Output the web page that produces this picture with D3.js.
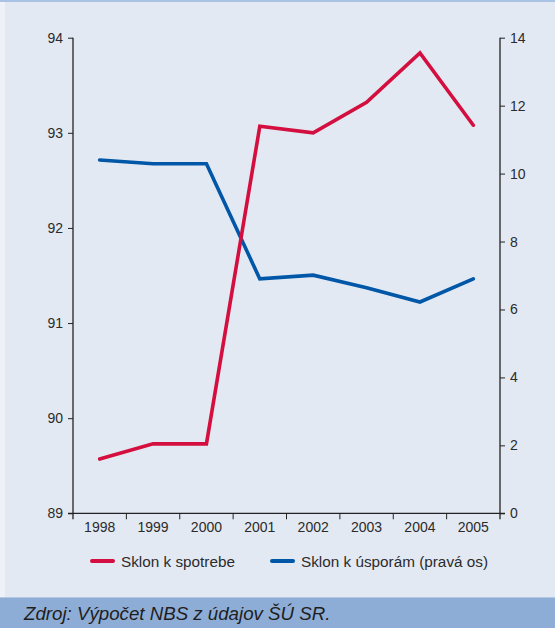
<!DOCTYPE html>
<html>
<head>
<meta charset="utf-8">
<script src="https://cdn.jsdelivr.net/npm/d3@7"></script>
<style>
  html, body { margin: 0; padding: 0; background: #eef2f8; }
  svg { display: block; }
  text { font-family: "Liberation Sans", Arial, sans-serif; fill: #2b2b2b; }
</style>
</head>
<body>
<svg id="chart" width="555" height="628"></svg>
<script>
// Years on the horizontal axis
const years = ["1998", "1999", "2000", "2001", "2002", "2003", "2004", "2005"];
// Propensity to consume (left axis, %)
const spotreba = [89.57, 89.73, 89.73, 93.07, 93.0, 93.32, 93.84, 93.08];
// Propensity to save (right axis, %)
const uspory = [10.4, 10.29, 10.29, 6.9, 7.01, 6.64, 6.22, 6.9];
// Axis ticks
const leftTicks = [89, 90, 91, 92, 93, 94];
const rightTicks = [0, 2, 4, 6, 8, 10, 12, 14];

const svg = d3.select("#chart");
const W = 555, H = 628;

// panel background, top rule and source band
svg.append("rect").attr("x", 5).attr("y", 0).attr("width", W - 5).attr("height", H).attr("fill", "#e3e9f3");
svg.append("rect").attr("x", 0).attr("y", 0).attr("width", W).attr("height", 2).attr("fill", "#a9c3e5");
svg.append("rect").attr("x", 0).attr("y", 598).attr("width", W).attr("height", 30).attr("fill", "#8eadd6");
svg.append("rect").attr("x", 0).attr("y", 597).attr("width", W).attr("height", 1).attr("fill", "#b5c8e2");
svg.append("text").attr("x", 24).attr("y", 620)
  .style("font-style", "italic").style("font-size", "18.7px").style("fill", "#1e1e1e")
  .text("Zdroj: Výpočet NBS z údajov ŠÚ SR.");

const plotLeft = 73, plotRight = 500, plotTop = 37.7, plotBottom = 513.3;

const x = d3.scaleBand().domain(years).range([plotLeft, plotRight]).padding(0);
const yL = d3.scaleLinear().domain([89, 94]).range([plotBottom, plotTop]);
const yR = d3.scaleLinear().domain([0, 14]).range([plotBottom, plotTop]);

const axisColor = "#222";

// left axis
const gL = svg.append("g").attr("transform", `translate(${plotLeft},0)`)
  .call(d3.axisLeft(yL).tickValues(leftTicks).tickSize(5).tickPadding(5).tickFormat(d3.format("d")));
// right axis
const gR = svg.append("g").attr("transform", `translate(${plotRight},0)`)
  .call(d3.axisRight(yR).tickValues(rightTicks).tickSize(5).tickPadding(5).tickFormat(d3.format("d")));
// bottom axis: ticks at category boundaries, labels centered in each band
const gB = svg.append("g").attr("transform", `translate(0,${plotBottom})`)
  .call(d3.axisBottom(x).tickSize(0).tickPadding(9));
gB.select(".domain").remove();

[gL, gR].forEach(g => {
  g.select(".domain").attr("stroke", axisColor).attr("stroke-width", 1.3)
    .attr("d", `M0,${plotTop}V${plotBottom + 6}`);
  g.selectAll(".tick line").attr("stroke", axisColor).attr("stroke-width", 1);
});
[gL, gR, gB].forEach(g => {
  g.selectAll(".tick text").style("font-size", "14px").style("fill", "#2b2b2b")
    .style("font-family", "'Liberation Sans', Arial, sans-serif");
});

// x-axis baseline and boundary ticks
svg.append("line").attr("x1", plotLeft - 5).attr("x2", plotRight + 5).attr("y1", plotBottom).attr("y2", plotBottom)
  .attr("stroke", axisColor).attr("stroke-width", 1.3);
svg.append("g").selectAll("line").data(years.slice(1)).join("line")
  .attr("x1", d => x(d)).attr("x2", d => x(d))
  .attr("y1", plotBottom).attr("y2", plotBottom + 6)
  .attr("stroke", axisColor).attr("stroke-width", 1);

// series
const cx = d => x(d) + x.bandwidth() / 2;
const lineL = d3.line().x((d, i) => cx(years[i])).y(d => yL(d));
const lineR = d3.line().x((d, i) => cx(years[i])).y(d => yR(d));

svg.append("path").datum(uspory).attr("d", lineR)
  .attr("fill", "none").attr("stroke", "#0057a8").attr("stroke-width", 3.6)
  .attr("stroke-linejoin", "miter").attr("stroke-linecap", "round");
svg.append("path").datum(spotreba).attr("d", lineL)
  .attr("fill", "none").attr("stroke", "#d40e3e").attr("stroke-width", 3.6)
  .attr("stroke-linejoin", "miter").attr("stroke-linecap", "round");

// legend
const legend = [
  { label: "Sklon k spotrebe", color: "#d40e3e", x: 92 },
  { label: "Sklon k úsporám (pravá os)", color: "#0057a8", x: 272 }
];
const lg = svg.append("g").selectAll("g").data(legend).join("g")
  .attr("transform", d => `translate(${d.x},561)`);
lg.append("line").attr("x1", 0).attr("x2", 21).attr("y1", 0).attr("y2", 0)
  .attr("stroke", d => d.color).attr("stroke-width", 4).attr("stroke-linecap", "round");
lg.append("text").attr("x", 29).attr("y", 5.5).style("font-size", "15.3px").text(d => d.label);
</script>
</body>
</html>
